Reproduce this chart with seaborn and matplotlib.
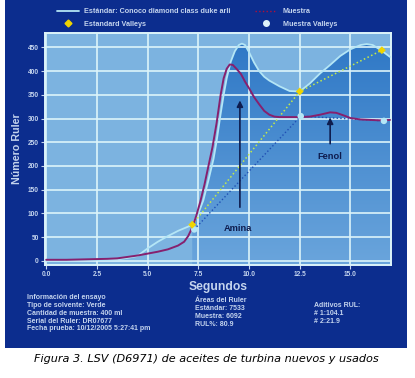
"""LSV (D6971) ruler curve: standard vs sample turbine oil."""

import numpy as np
import pandas as pd
import seaborn as sns
import matplotlib.pyplot as plt
from matplotlib.lines import Line2D
from matplotlib.patches import Rectangle
from matplotlib.colors import LinearSegmentedColormap

# Standard curve (Conoco diamond class duke arli)
STD_SEG = [0.0, 1.0, 2.0, 3.0, 3.5, 4.0, 4.5, 5.0, 5.5, 6.0, 6.5, 7.0, 7.2,
           7.5, 7.75, 8.0, 8.25, 8.4, 8.6, 8.75, 8.9, 9.1, 9.3, 9.5, 9.65,
           9.8, 10.0, 10.25, 10.5, 10.75, 11.0, 11.5, 12.0, 12.5, 13.0, 13.5,
           14.0, 14.5, 15.0, 15.5, 15.8, 16.1, 16.4, 16.7, 16.95]
STD_RUL = [0, 0, 1, 2, 3, 6, 10, 26, 40, 52, 63, 72, 76,
           100, 128, 170, 215, 252, 310, 350, 385, 420, 442, 455, 458,
           455, 440, 418, 400, 388, 380, 368, 358, 357, 374, 395,
           413, 432, 446, 455, 457, 455, 447, 438, 430]

# Sample curve (Muestra)
MUE_SEG = [0.0, 1.0, 2.0, 3.0, 3.5, 4.0, 4.5, 5.0, 5.5, 6.0, 6.5, 6.8, 7.0,
           7.2, 7.4, 7.6, 7.8, 8.0, 8.2, 8.4, 8.6, 8.75, 8.9, 9.05, 9.2, 9.4,
           9.6, 9.8, 10.0, 10.25, 10.5, 10.75, 11.0, 11.25, 11.5, 12.0, 12.5,
           13.0, 13.5, 14.0, 14.3, 14.7, 15.0, 15.5, 16.0, 16.5, 16.95]
MUE_RUL = [2, 2, 3, 4, 5, 8, 11, 15, 19, 24, 32, 40, 52,
           70, 95, 125, 160, 200, 240, 290, 350, 385, 405, 414, 413, 404,
           394, 378, 364, 345, 330, 316, 308, 304, 303, 303, 303,
           304, 308, 313, 312, 306, 301, 298, 297, 296, 297]

# Valleys
STD_VALLEY_SEG = [7.2, 12.5, 16.55]
STD_VALLEY_RUL = [76, 357, 444]
MUE_VALLEY_SEG = [7.3, 12.55, 16.65]
MUE_VALLEY_RUL = [66, 305, 295]

X_TICKS = [0.0, 2.5, 5.0, 7.5, 10.0, 12.5, 15.0]
Y_TICKS = [0, 50, 100, 150, 200, 250, 300, 350, 400, 450]

INFO_1 = ["Información del ensayo", "Tipo de solvente: Verde",
          "Cantidad de muestra: 400 ml", "Serial del Ruler: DR07677",
          "Fecha prueba: 10/12/2005 5:27:41 pm"]
INFO_2 = ["Áreas del Ruler", "Estándar: 7533", "Muestra: 6092", "RUL%: 80.9"]
INFO_3 = ["Aditivos RUL:", "# 1:104.1", "# 2:21.9"]

# Colours
PANEL = "#0c2d8e"
PLOT_BG = "#7cb3e0"
FILL_TOP = "#2f78c6"
FILL_BOTTOM = "#6aa5dc"
GRID = "#dcf4fa"
LIGHT = "#b4e6f6"
PURPLE = "#86206e"
YELLOW = "#f0d400"
YGREEN = "#c6ec48"
DOTBLUE = "#1f4fb4"
NAVY = "#0e1c4e"
TEXT = "#c4d4ee"

W, H = 415, 378
XLIM = (-0.06, 17.0)
YLIM = (-9, 481)


def fx(px):
    return px / W


def fy(py):
    return 1 - py / H


def main():
    sns.set_style("white")
    plt.rcParams["font.family"] = ["Liberation Sans", "DejaVu Sans"]
    plt.rcParams["font.weight"] = "bold"

    std = pd.DataFrame({"seg": STD_SEG, "rul": STD_RUL})
    mue = pd.DataFrame({"seg": MUE_SEG, "rul": MUE_RUL})
    std_v = pd.DataFrame({"seg": STD_VALLEY_SEG, "rul": STD_VALLEY_RUL})
    mue_v = pd.DataFrame({"seg": MUE_VALLEY_SEG, "rul": MUE_VALLEY_RUL})

    fig = plt.figure(figsize=(W / 100, H / 100), dpi=100)
    fig.patch.set_facecolor("white")
    fig.patches.append(Rectangle((fx(5), fy(348)), fx(402), 348 / H,
                                 transform=fig.transFigure, facecolor=PANEL,
                                 edgecolor="none", zorder=-10))

    ax = fig.add_axes([fx(45), fy(265), fx(346), (265 - 32.7) / H])
    ax.set_facecolor(PLOT_BG)

    # shaded area under the standard curve from the first valley on,
    # with a vertical gradient (dark at top, lighter at the bottom)
    shade = std[std["seg"] >= STD_VALLEY_SEG[0]]
    poly = ax.fill_between(shade["seg"], shade["rul"], YLIM[0], facecolor="none",
                           lw=0, zorder=0.2)
    cmap = LinearSegmentedColormap.from_list("shade", [FILL_BOTTOM, FILL_TOP])
    grad = np.linspace(0, 1, 256).reshape(-1, 1)
    im = ax.imshow(grad, cmap=cmap, extent=[XLIM[0], XLIM[1], YLIM[0], 460],
                   origin="lower", aspect="auto", zorder=0.2)
    im.set_clip_path(poly.get_paths()[0], transform=ax.transData)

    sns.lineplot(data=std, x="seg", y="rul", color=LIGHT, lw=1.3,
                 estimator=None, sort=False, ax=ax, zorder=3)
    sns.lineplot(data=mue_v, x="seg", y="rul", color=DOTBLUE, lw=1.0,
                 linestyle=":", estimator=None, sort=False, ax=ax, zorder=3)
    sns.lineplot(data=std_v, x="seg", y="rul", color=YGREEN, lw=1.1,
                 linestyle=":", estimator=None, sort=False, ax=ax, zorder=3)
    sns.lineplot(data=mue, x="seg", y="rul", color=PURPLE, lw=1.4,
                 estimator=None, sort=False, ax=ax, zorder=4)
    sns.scatterplot(data=mue_v, x="seg", y="rul", color=LIGHT, marker="o",
                    s=22, edgecolor="none", ax=ax, zorder=5)
    sns.scatterplot(data=std_v, x="seg", y="rul", color=YELLOW, marker="D",
                    s=16, edgecolor="none", ax=ax, zorder=5)

    # additive arrows
    arrow = dict(arrowstyle="-|>", color=NAVY, lw=1.2, mutation_scale=9)
    ax.annotate("", xy=(9.55, 344), xytext=(9.55, 107), arrowprops=arrow, zorder=6)
    ax.annotate("", xy=(14.0, 308), xytext=(14.0, 241), arrowprops=arrow, zorder=6)
    ax.text(9.47, 69, "Amina", color=NAVY, fontsize=6.7, ha="center", va="center",
            fontweight="bold", zorder=6)
    ax.text(14.0, 220, "Fenol", color=NAVY, fontsize=6.7, ha="center", va="center",
            fontweight="bold", zorder=6)

    ax.set_xlim(*XLIM)
    ax.set_ylim(*YLIM)
    ax.set_xticks(X_TICKS)
    ax.set_xticklabels([f"{t:.1f}" for t in X_TICKS])
    ax.set_yticks(Y_TICKS)
    ax.grid(True, color=GRID, lw=1.2, zorder=0.5)
    ax.set_axisbelow(True)
    for s in ax.spines.values():
        s.set_color(GRID)
        s.set_linewidth(1.4)
    ax.tick_params(axis="both", colors=TEXT, labelsize=4.8, length=3, width=0.8,
                   pad=1.5, direction="out", left=True, bottom=True)
    for lab in ax.get_xticklabels() + ax.get_yticklabels():
        lab.set_fontweight("bold")

    ax.set_xlabel("Segundos", color=TEXT, fontsize=8.7, fontweight="bold", labelpad=2)
    ax.set_ylabel("Número Ruler", color=TEXT, fontsize=7.7, fontweight="bold", labelpad=4)

    handles = [
        Line2D([], [], color=LIGHT, lw=1.3),
        Line2D([], [], color=YELLOW, marker="D", ms=3.5, ls="none"),
        Line2D([], [], color="#b0103a", lw=1.0, ls=":"),
        Line2D([], [], color="#dff2fa", marker="o", ms=4, ls="none"),
    ]
    labels = ["Estándar: Conoco diamond class duke arli", "Estandard Valleys",
              "Muestra", "Muestra Valleys"]
    fig.legend(handles, labels, loc="upper left", bbox_to_anchor=(fx(57), fy(8)),
               ncol=2, frameon=False, labelcolor=TEXT,
               handlelength=3.0, handletextpad=0.8, columnspacing=3.4,
               labelspacing=0.75, borderpad=0, borderaxespad=0,
               prop={"weight": "bold", "size": 5.2})

    # test information block
    for i, t in enumerate(INFO_1):
        fig.text(fx(27), fy(297.7 + i * 7.8), t, color=TEXT, fontsize=5,
                 fontweight="bold", va="center")
    for i, t in enumerate(INFO_2):
        fig.text(fx(195), fy(300 + i * 8.1), t, color=TEXT, fontsize=5,
                 fontweight="bold", va="center")
    for i, t in enumerate(INFO_3):
        fig.text(fx(314), fy(305.7 + i * 7.7), t, color=TEXT, fontsize=5,
                 fontweight="bold", va="center")

    fig.text(fx(206), fy(358.5),
             "Figura 3. LSV (D6971) de aceites de turbina nuevos y usados",
             color="black", fontsize=8.1, style="italic", fontweight="normal",
             family="DejaVu Sans", ha="center", va="center")

    fig.savefig("out.png", dpi=100, facecolor="white")


if __name__ == "__main__":
    main()
